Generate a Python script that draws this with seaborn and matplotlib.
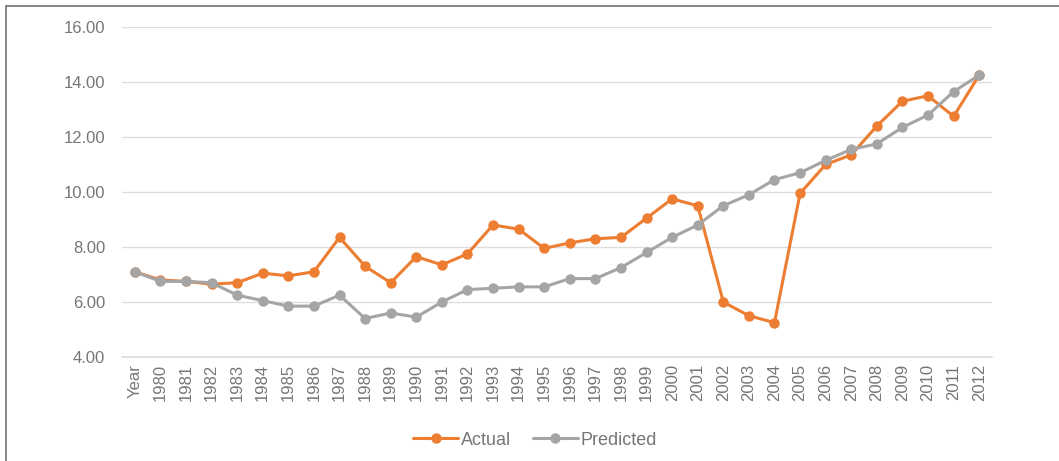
import matplotlib
matplotlib.use("Agg")
import matplotlib.pyplot as plt
import matplotlib.patches as mpatches
import pandas as pd
import seaborn as sns

years = ["Year"] + [str(y) for y in range(1980, 2013)]

actual = [7.10, 6.80, 6.75, 6.65, 6.70, 7.05, 6.95, 7.10, 8.35, 7.30,
          6.70, 7.65, 7.35, 7.75, 8.80, 8.65, 7.95, 8.15, 8.30, 8.35,
          9.05, 9.75, 9.50, 6.00, 5.50, 5.25, 9.95, 11.00, 11.35, 12.40,
          13.30, 13.50, 12.75, 14.25]

predicted = [7.10, 6.75, 6.75, 6.70, 6.25, 6.05, 5.85, 5.85, 6.25, 5.40,
             5.60, 5.45, 6.00, 6.45, 6.50, 6.55, 6.55, 6.85, 6.85, 7.25,
             7.80, 8.35, 8.80, 9.50, 9.90, 10.45, 10.70, 11.15, 11.55, 11.75,
             12.35, 12.80, 13.65, 14.25]

series_names = ["Actual", "Predicted"]
colors = {"Actual": "#ED7D31", "Predicted": "#A5A5A5"}
text_color = "#767676"

df = pd.concat([
    pd.DataFrame({"year": years, "value": actual, "series": "Actual"}),
    pd.DataFrame({"year": years, "value": predicted, "series": "Predicted"}),
], ignore_index=True)

sns.set_theme(style="white")
plt.rcParams["font.family"] = ["Liberation Sans", "DejaVu Sans"]

W, H = 1059, 461
fig = plt.figure(figsize=(W / 100, H / 100), dpi=100)
ax = fig.add_axes([122 / W, 1 - 357 / H, (992 - 122) / W, (357 - 27) / H])

sns.lineplot(data=df, x="year", y="value", hue="series", hue_order=series_names,
             palette=colors, marker="o", markersize=7.5, markeredgewidth=0,
             linewidth=2.2, sort=False, ax=ax, legend=False)

ax.set_ylim(4, 16)
ax.set_yticks([4, 6, 8, 10, 12, 14, 16])
ax.set_yticklabels([f"{v:.2f}" for v in ax.get_yticks()])
ax.set_xlim(-0.5, len(years) - 0.5)
ax.set_xticks(range(len(years)))
ax.set_xticklabels(years, rotation=90)
ax.set_xlabel("")
ax.set_ylabel("")
ax.grid(axis="y", color="#DDDDDD", linewidth=1)
ax.set_axisbelow(True)
for s in ["top", "right", "left"]:
    ax.spines[s].set_visible(False)
ax.spines["bottom"].set_color("#DDDDDD")
ax.tick_params(axis="both", colors=text_color, labelsize=12, length=0)
ax.tick_params(axis="y", pad=12)
ax.tick_params(axis="x", pad=5)

handles = [plt.Line2D([], [], color=colors[n], marker="o", markersize=7.5,
                      markeredgewidth=0, linewidth=2.2) for n in series_names]
fig.legend(handles, series_names, loc="center", bbox_to_anchor=(535 / W, 1 - 440 / H),
           ncol=2, frameon=False, fontsize=13, labelcolor=text_color,
           handlelength=2.5, columnspacing=1.2, handletextpad=0.15)

# thin frame around the chart area
fig.add_artist(mpatches.Rectangle((6 / W, -0.1), 1.2, 1 - 6 / H + 0.1,
                                  transform=fig.transFigure, fill=False,
                                  edgecolor="#707070", linewidth=1.2))

fig.savefig("out.png", dpi=100)
